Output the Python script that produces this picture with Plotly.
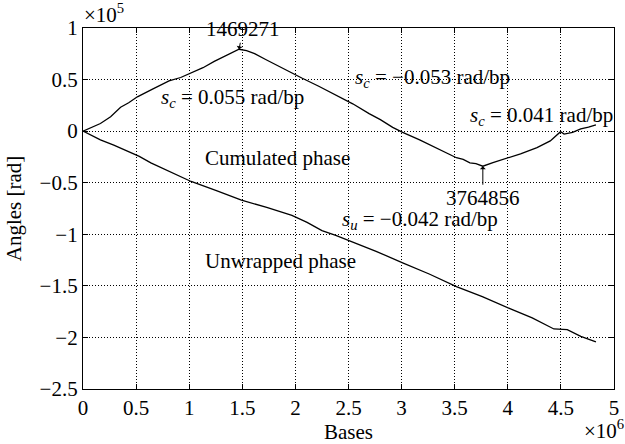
import plotly.graph_objects as go

# Cumulated phase (bases, rad)
cum_x = [0, 90000, 164000, 260000, 354000, 430000, 512000, 650000, 810000, 920000, 1020000,
         1130000, 1236000, 1350000, 1469271, 1540000, 1616000, 1720000, 1840000, 1950000,
         2060000, 2220000, 2378000, 2540000, 2694000, 2800000, 2916000, 3010000, 3170000,
         3326000, 3430000, 3516000, 3580000, 3643000, 3700000, 3764856, 3860000, 3960000,
         4120000, 4275000, 4400000, 4497000, 4530000, 4610000, 4687000, 4760000, 4830000]
cum_y = [0, 4000, 7400, 14000, 23200, 27500, 33300, 40500, 48800, 52000, 56400,
         61500, 67600, 73000, 79400, 78000, 75100, 69500, 62900, 57200,
         51500, 43500, 35000, 26500, 17000, 11200, 3700, -1200, -8500,
         -16000, -21500, -25800, -27400, -30800, -31500, -34000, -30500, -27400,
         -22000, -16000, -9500, -500, -2800, -1200, 2200, 3800, 6100]

# Unwrapped phase (bases, rad)
unw_x = [0, 80000, 164000, 290000, 417000, 530000, 639000, 830000, 1018000, 1250000,
         1492000, 1730000, 1967000, 2110000, 2250000, 2380000, 2514000, 2760000, 3010000,
         3260000, 3516000, 3760000, 4020000, 4230000, 4434000, 4560000, 4687000, 4760000, 4830000]
unw_y = [0, -4200, -8400, -13500, -19200, -24500, -30800, -39500, -48800, -57500,
         -66900, -74000, -81700, -88500, -96500, -101000, -106300, -116500, -127700,
         -138500, -150700, -160500, -172100, -181000, -191800, -192500, -199000, -201500, -204300]

x_ticks = [0, 500000, 1000000, 1500000, 2000000, 2500000, 3000000, 3500000, 4000000, 4500000, 5000000]
x_labels = ["0", "0.5", "1", "1.5", "2", "2.5", "3", "3.5", "4", "4.5", "5"]
y_ticks = [-250000, -200000, -150000, -100000, -50000, 0, 50000, 100000]
y_labels = ["\u22122.5", "\u22122", "\u22121.5", "\u22121", "\u22120.5", "0", "0.5", "1"]

FONT = "Liberation Serif"
FS = 21

fig = go.Figure()
fig.add_trace(go.Scatter(x=cum_x, y=cum_y, mode="lines", line=dict(color="black", width=1.3),
                         showlegend=False, hoverinfo="skip"))
fig.add_trace(go.Scatter(x=unw_x, y=unw_y, mode="lines", line=dict(color="black", width=1.3),
                         showlegend=False, hoverinfo="skip"))

axis_common = dict(showline=True, linecolor="black", linewidth=1.2, mirror="allticks",
                   ticks="inside", ticklen=5, tickcolor="black", showgrid=True,
                   gridcolor="black", griddash="1px,2px", gridwidth=1, zeroline=False,
                   automargin=False,
                   tickfont=dict(family=FONT, size=FS, color="black"))

fig.update_layout(
    width=625, height=444,
    margin=dict(l=83, r=11, t=28, b=55),
    paper_bgcolor="white", plot_bgcolor="white",
    font=dict(family=FONT, size=FS, color="black"),
    xaxis=dict(range=[0, 5000000], tickvals=x_ticks, ticktext=x_labels,
               title=dict(text="Bases", font=dict(family=FONT, size=FS), standoff=0),
               **axis_common),
    yaxis=dict(range=[-250000, 100000], tickvals=y_ticks, ticktext=y_labels,
               title=dict(text="Angles [rad]", font=dict(family=FONT, size=FS), standoff=12),
               **axis_common),
)

def txt(x, y, s):
    fig.add_annotation(x=x, y=y, xref="x", yref="y", text=s, showarrow=False,
                       font=dict(family=FONT, size=FS, color="black"))

txt(1408000, 32000, "<i>s<sub>c</sub></i> = 0.055 rad/bp")
txt(3287000, 51800, "<i>s<sub>c</sub></i> = \u22120.053 rad/bp")
txt(4320000, 14600, "<i>s<sub>c</sub></i> = 0.041 rad/bp")
txt(1835000, -25800, "Cumulated phase")
txt(3170000, -86300, "<i>s<sub>u</sub></i> = \u22120.042 rad/bp")
txt(1862000, -125700, "Unwrapped phase")

fig.add_annotation(x=cum_x[14], y=cum_y[14], xref="x", yref="y", text="1469271",
                   showarrow=True, ax=4, ay=-20, arrowhead=1, arrowsize=1, arrowwidth=1,
                   arrowcolor="black", font=dict(family=FONT, size=FS, color="black"))
fig.add_annotation(x=cum_x[35], y=cum_y[35], xref="x", yref="y", text="3764856",
                   showarrow=True, ax=0, ay=32, arrowhead=1, arrowsize=1, arrowwidth=1,
                   arrowcolor="black", font=dict(family=FONT, size=FS, color="black"))

fig.add_annotation(x=0, y=1, xref="paper", yref="paper", xanchor="left", yanchor="top",
                   yshift=29, borderpad=0, text="\u00d710<sup>5</sup>", showarrow=False,
                   font=dict(family=FONT, size=FS, color="black"))
fig.add_annotation(x=1, y=0, xref="paper", yref="paper", xanchor="right", yanchor="bottom",
                   yshift=-55, xshift=11, borderpad=0, text="\u00d710<sup>6</sup>", showarrow=False,
                   font=dict(family=FONT, size=FS, color="black"))

fig.write_html("out.html", config={"displayModeBar": False},
               post_script="document.body.style.margin='0';")
